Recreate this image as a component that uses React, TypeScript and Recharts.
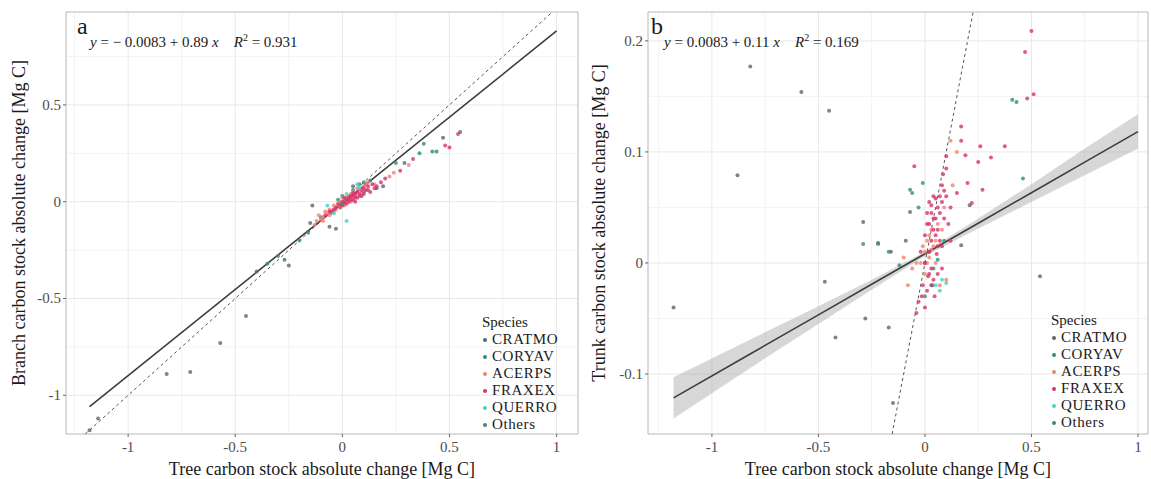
import React from 'react';
import {
  ComposedChart, Scatter, Line, Area, XAxis, YAxis, CartesianGrid, ReferenceLine, ReferenceArea,
} from 'recharts';

// ---------- categories ----------
const species = ['CRATMO', 'CORYAV', 'ACERPS', 'FRAXEX', 'QUERRO', 'Others'];
const speciesColors = ['#56667a', '#2a8d7f', '#ee8470', '#d4336b', '#44d2c6', '#3f8a74'];

// ---------- tick labels ----------
const xTicks = [-1, -0.5, 0, 0.5, 1];
const xMinor = [-1.25, -0.75, -0.25, 0.25, 0.75];
const leftYTicks = [-1, -0.5, 0, 0.5];
const leftYMinor = [-0.75, -0.25, 0.25, 0.75];
const rightYTicks = [-0.1, 0, 0.1, 0.2];
const rightYMinor = [-0.05, 0.05, 0.15];

// ---------- panel a : branch vs tree ----------
const leftCRATMO: [number, number][] = [
  [-0.14, -0.02], [-0.82, -0.89], [-0.71, -0.88], [-0.57, -0.73], [-0.45, -0.59], [-0.27, -0.3],
  [-0.25, -0.33], [-0.4, -0.36], [-1.14, -1.12], [-1.18, -1.18], [-0.15, -0.11], [-0.06, -0.13],
  [-0.03, -0.14], [0.05, 0.08], [0.1, 0.05], [0.16, 0.07], [0.19, 0.08], [0.29, 0.2], [0.47, 0.33], [0.55, 0.36],
];
const leftCORYAV: [number, number][] = [
  [0.42, 0.26], [0.44, 0.26], [0.05, 0.06], [-0.02, 0.01], [0.08, 0.09], [-0.1, -0.08], [0.13, 0.11], [0.36, 0.25], [0.0, 0.03],
];
const leftACERPS: [number, number][] = [
  [-0.12, -0.1], [-0.1, -0.09], [-0.09, -0.08], [-0.07, -0.06], [-0.06, -0.04], [-0.05, -0.06], [-0.04, -0.02],
  [-0.03, -0.04], [-0.02, -0.02], [-0.01, 0.0], [0, -0.01], [0.01, 0.01], [0.02, 0.02], [0.03, 0.01], [0.04, 0.04],
  [0.05, 0.05], [0.06, 0.03], [0.08, 0.06], [0.1, 0.08], [0.12, 0.1], [0.15, 0.09], [-0.08, -0.05], [-0.11, -0.07],
  [0.0, 0.02], [0.04, 0.0], [0.07, 0.07], [0.22, 0.13], [0.24, 0.15], [0.31, 0.19], [-0.13, -0.12], [-0.09, -0.1],
  [-0.06, -0.07], [-0.04, -0.05], [0.01, -0.02], [0.03, 0.03], [0.09, 0.05], [0.11, 0.09],
];
const leftFRAXEX: [number, number][] = [
  [-0.08, -0.07], [-0.05, -0.05], [-0.03, -0.03], [-0.02, -0.01], [0, 0.0], [0.01, -0.005], [0.02, 0.01], [0.03, 0.02],
  [0.04, 0.03], [0.05, 0.03], [0.06, 0.04], [0.07, 0.05], [0.08, 0.04], [0.09, 0.06], [0.1, 0.07], [0.11, 0.06],
  [0.12, 0.08], [0.14, 0.09], [0.16, 0.08], [0.18, 0.1], [0.03, 0.0], [0.05, 0.01], [0.07, 0.02], [0.0, -0.02],
  [-0.01, -0.03], [0.02, -0.01], [0.09, 0.03], [0.13, 0.05], [0.06, 0.0], [0.48, 0.29], [0.5, 0.28], [0.54, 0.35],
  [0.27, 0.16], [0.33, 0.22], [0.2, 0.12], [0.04, 0.01], [0.08, 0.03], [0.1, 0.04], [0.12, 0.06], [0.15, 0.07],
  [0.06, 0.02], [-0.04, -0.04], [-0.06, -0.05], [0.01, 0.02], [0.05, 0.045],
];
const leftQUERRO: [number, number][] = [
  [-0.04, -0.06], [0.02, -0.1], [0.02, 0.04], [-0.07, -0.02], [0.07, 0.09], [0.08, 0.07],
];
const leftOthers: [number, number][] = [
  [-0.2, -0.2], [-0.35, -0.32], [-0.3, -0.28], [0.1, 0.1], [0.0, -0.01], [-0.16, -0.16], [0.25, 0.2], [0.38, 0.3],
];
const leftFitX = [-1.18, 1.0];
const leftFitY = [-1.058, 0.882];

// ---------- panel b : trunk vs tree ----------
const rightCRATMO: [number, number][] = [
  [-0.82, 0.177], [-0.58, 0.154], [-0.45, 0.137], [-0.88, 0.079], [-1.18, -0.04], [-0.47, -0.017], [-0.28, -0.05],
  [-0.17, -0.058], [-0.42, -0.067], [-0.15, -0.126], [0.54, -0.012], [-0.29, 0.037], [-0.07, 0.046], [-0.09, 0.02],
  [-0.22, 0.018], [-0.16, 0.01], [0.21, 0.052], [0.17, 0.016], [0.0, 0.0], [0.03, -0.02],
];
const rightCORYAV: [number, number][] = [
  [0.41, 0.147], [0.43, 0.145], [0.46, 0.076], [0.06, 0.003], [0.04, -0.005], [0.02, 0.01], [0.09, 0.02],
];
const rightACERPS: [number, number][] = [
  [-0.02, 0.0], [0.0, 0.01], [0.01, 0.02], [0.03, 0.03], [0.04, 0.015], [0.05, 0.0], [0.02, 0.005], [-0.04, 0.0],
  [0.06, 0.035], [0.0, -0.01], [-0.06, -0.005], [0.08, 0.03], [0.13, 0.07], [0.15, 0.1], [0.12, 0.11], [0.09, 0.05],
  [-0.08, -0.02], [-0.1, 0.005], [0.07, -0.02], [0.1, -0.015], [0.01, 0.0], [0.03, 0.012], [-0.01, 0.015],
  [0.05, 0.02], [0.02, 0.025],
];
const rightFRAXEX: [number, number][] = [
  [0.0, 0.0], [0.02, 0.01], [0.03, 0.02], [0.04, 0.03], [0.05, 0.04], [0.06, 0.05], [0.07, 0.06], [0.08, 0.055],
  [0.1, 0.06], [0.12, 0.05], [0.01, 0.035], [0.03, 0.045], [0.05, 0.025], [0.06, 0.015], [0.09, 0.04], [0.11, 0.035],
  [0.02, -0.01], [0.04, -0.015], [-0.01, -0.02], [0.01, -0.025], [0.03, -0.005], [0.07, 0.02], [-0.02, 0.01],
  [0.0, 0.025], [0.02, 0.055], [0.04, 0.06], [0.08, 0.07], [0.1, 0.085], [0.085, 0.08], [0.1, 0.096], [0.15, 0.063],
  [0.17, 0.123], [0.17, 0.11], [0.19, 0.097], [0.2, 0.072], [0.22, 0.054], [0.25, 0.091], [0.26, 0.105], [0.27, 0.066],
  [0.31, 0.095], [0.375, 0.105], [0.5, 0.209], [0.47, 0.19], [0.51, 0.152], [0.48, 0.148], [-0.05, 0.087],
  [0.045, -0.03], [-0.03, -0.035], [-0.04, -0.045], [0.06, -0.01], [0.08, -0.005], [0.12, 0.02],
  [0.01, 0.045], [0.03, 0.052], [0.05, 0.058], [0.07, 0.045], [0.09, 0.065], [0.06, 0.03], [0.04, 0.04],
  [0.02, 0.035], [0.08, 0.015], [0.035, -0.02], [0.015, -0.012], [0.055, 0.008], [-0.015, -0.03], [0.0, -0.04],
];
const rightQUERRO: [number, number][] = [
  [0.08, -0.015], [0.1, -0.018], [0.05, -0.02], [0.07, -0.025],
];
const rightOthers: [number, number][] = [
  [-0.07, 0.066], [-0.06, 0.063], [-0.01, 0.072], [-0.03, 0.05], [-0.29, 0.017], [-0.22, 0.017], [-0.17, 0.01],
  [0.0, -0.03], [-0.12, -0.002],
];
const rightFitX = [-1.18, -0.8, -0.5, -0.25, 0, 0.25, 0.5, 0.75, 1.0];
const rightFitY = [-0.1215, -0.0797, -0.0467, -0.0192, 0.0083, 0.0358, 0.0633, 0.0908, 0.1183];
const rightBandLow = [-0.14, -0.092, -0.055, -0.024, 0.006, 0.031, 0.055, 0.079, 0.103];
const rightBandHigh = [-0.103, -0.067, -0.039, -0.015, 0.010, 0.040, 0.071, 0.103, 0.134];

const FONT = '"Liberation Serif", "Times New Roman", serif';

const toPts = (arr: [number, number][]) => arr.map(([x, y]) => ({ x, y }));

type PanelProps = {
  width: number;
  height: number;
  yAxisWidth: number;
  xDomain: [number, number];
  yDomain: [number, number];
  yTicks: number[];
  yMinor: number[];
  series: [number, number][][];
  fitRows: any[];
  withBand: boolean;
  yTitle: string;
};

const dot = (color: string) => (p: any) => (
  <circle cx={p.cx} cy={p.cy} r={2} fill={color} fillOpacity={0.8} />
);

const XTick = (p: any) => (
  <text x={p.x} y={p.y + 13} textAnchor="middle" fontSize={15} fill="#4d4d4d" fontFamily={FONT}>
    {String(p.payload.value)}
  </text>
);
const YTick = (p: any) => (
  <text x={p.x} y={p.y + 5} textAnchor="end" fontSize={15} fill="#4d4d4d" fontFamily={FONT}>
    {String(p.payload.value)}
  </text>
);

function Panel(props: PanelProps) {
  const { width, height, yAxisWidth, xDomain, yDomain, yTicks, yMinor, series, fitRows, withBand, yTitle } = props;
  const lo = Math.max(xDomain[0], yDomain[0]);
  const hi = Math.min(xDomain[1], yDomain[1]);
  return (
    <ComposedChart
      width={width}
      height={height}
      data={fitRows}
      margin={{ top: 12, right: 3, bottom: 0, left: 26 }}
      style={{ fontFamily: FONT }}
    >
      <CartesianGrid stroke="#f3f3f3" verticalValues={xMinor} horizontalValues={yMinor} />
      <CartesianGrid stroke="#e8e8e8" verticalValues={xTicks} horizontalValues={yTicks} />
      <XAxis
        dataKey="x"
        type="number"
        domain={xDomain}
        allowDataOverflow
        ticks={xTicks}
        axisLine={false}
        tickSize={3}
        tickLine={{ stroke: '#666' }}
        tick={<XTick />}
        height={45}
        label={{
          value: 'Tree carbon stock absolute change [Mg C]',
          position: 'insideBottom',
          offset: 4,
          style: { fontSize: 18, fill: '#1a1a1a', fontFamily: FONT },
        }}
      />
      <YAxis
        type="number"
        domain={yDomain}
        allowDataOverflow
        ticks={yTicks}
        axisLine={false}
        tickSize={3}
        tickLine={{ stroke: '#666' }}
        tick={<YTick />}
        width={yAxisWidth}
        label={{
          value: yTitle,
          content: (lp: any) => {
            const vb = lp.viewBox;
            const cx = vb.x - 1;
            const cy = vb.y + vb.height / 2;
            return (
              <text
                x={cx}
                y={cy}
                transform={`rotate(-90, ${cx}, ${cy})`}
                textAnchor="middle"
                fontSize={18}
                fill="#1a1a1a"
                fontFamily={FONT}
              >
                {yTitle}
              </text>
            );
          },
        }}
      />
      <ReferenceArea
        x1={xDomain[0]}
        x2={xDomain[1]}
        y1={yDomain[0]}
        y2={yDomain[1]}
        fill="none"
        stroke="#b8b8b8"
        strokeWidth={1}
        ifOverflow="visible"
      />
      {withBand && (
        <Area
          dataKey="band"
          type="linear"
          stroke="none"
          fill="#9a9a9a"
          fillOpacity={0.4}
          isAnimationActive={false}
          activeDot={false}
          dot={false}
        />
      )}
      {series.map((s, i) => (
        <Scatter
          key={species[i]}
          name={species[i]}
          data={toPts(s)}
          dataKey="y"
          fill={speciesColors[i]}
          shape={dot(speciesColors[i])}
          isAnimationActive={false}
        />
      ))}
      <ReferenceLine
        segment={[{ x: lo, y: lo }, { x: hi, y: hi }]}
        stroke="#555"
        strokeWidth={1}
        strokeDasharray="3 3"
        ifOverflow="visible"
      />
      <Line
        dataKey="fit"
        type="linear"
        stroke="#3d3d3d"
        strokeWidth={1.6}
        dot={false}
        activeDot={false}
        isAnimationActive={false}
      />
    </ComposedChart>
  );
}

function LegendBox({ left, top }: { left: number; top: number }) {
  return (
    <div style={{ position: 'absolute', left, top, fontFamily: FONT, fontSize: 15, lineHeight: '17px', color: '#1a1a1a' }}>
      <div style={{ marginLeft: 1 }}>Species</div>
      {species.map((s, i) => (
        <div key={s} style={{ display: 'flex', alignItems: 'center', height: 17 }}>
          <span style={{ display: 'inline-block', width: 4, height: 4, borderRadius: 2, background: speciesColors[i], marginLeft: 2, marginRight: 5 }} />
          <span style={{ letterSpacing: 0.6 }}>{s}</span>
        </div>
      ))}
    </div>
  );
}

function Equation({ left, top, letter, intercept, slope, r2 }: any) {
  return (
    <>
      <div style={{ position: 'absolute', left, top, fontFamily: FONT, fontSize: 24, lineHeight: '24px', color: '#1a1a1a' }}>{letter}</div>
      <div style={{ position: 'absolute', left: left + 13, top: top + 16, fontFamily: FONT, fontSize: 15, lineHeight: '16px', color: '#1a1a1a', whiteSpace: 'pre' }}>
        <i>y</i>{` = ${intercept} + ${slope} `}<i>x</i>{'    '}<i>R</i><sup style={{ fontSize: 10 }}>2</sup>{` = ${r2}`}
      </div>
    </>
  );
}

export default function App() {
  const leftRows = leftFitX.map((x, i) => ({ x, fit: leftFitY[i] }));
  const rightRows = rightFitX.map((x, i) => ({ x, fit: rightFitY[i], band: [rightBandLow[i], rightBandHigh[i]] }));
  return (
    <div style={{ position: 'absolute', left: 0, top: 0, width: 1151, height: 479, background: '#fff', overflow: 'hidden' }}>
      <div style={{ position: 'absolute', left: 0, top: 0 }}>
        <Panel
          width={581}
          height={479}
          yAxisWidth={40}
          xDomain={[-1.29, 1.1]}
          yDomain={[-1.2, 0.98]}
          yTicks={leftYTicks}
          yMinor={leftYMinor}
          series={[leftCRATMO, leftCORYAV, leftACERPS, leftFRAXEX, leftQUERRO, leftOthers]}
          fitRows={leftRows}
          withBand={false}
          yTitle="Branch carbon stock absolute change [Mg C]"
        />
      </div>
      <div style={{ position: 'absolute', left: 580, top: 0 }}>
        <Panel
          width={571}
          height={479}
          yAxisWidth={42}
          xDomain={[-1.3, 1.047]}
          yDomain={[-0.154, 0.226]}
          yTicks={rightYTicks}
          yMinor={rightYMinor}
          series={[rightCRATMO, rightCORYAV, rightACERPS, rightFRAXEX, rightQUERRO, rightOthers]}
          fitRows={rightRows}
          withBand={true}
          yTitle="Trunk carbon stock absolute change [Mg C]"
        />
      </div>
      <Equation left={77} top={14} letter="a" intercept="− 0.0083" slope="0.89" r2="0.931" />
      <Equation left={651} top={14} letter="b" intercept="0.0083" slope="0.11" r2="0.169" />
      <LegendBox left={481} top={314} />
      <LegendBox left={1050} top={312} />
    </div>
  );
}
